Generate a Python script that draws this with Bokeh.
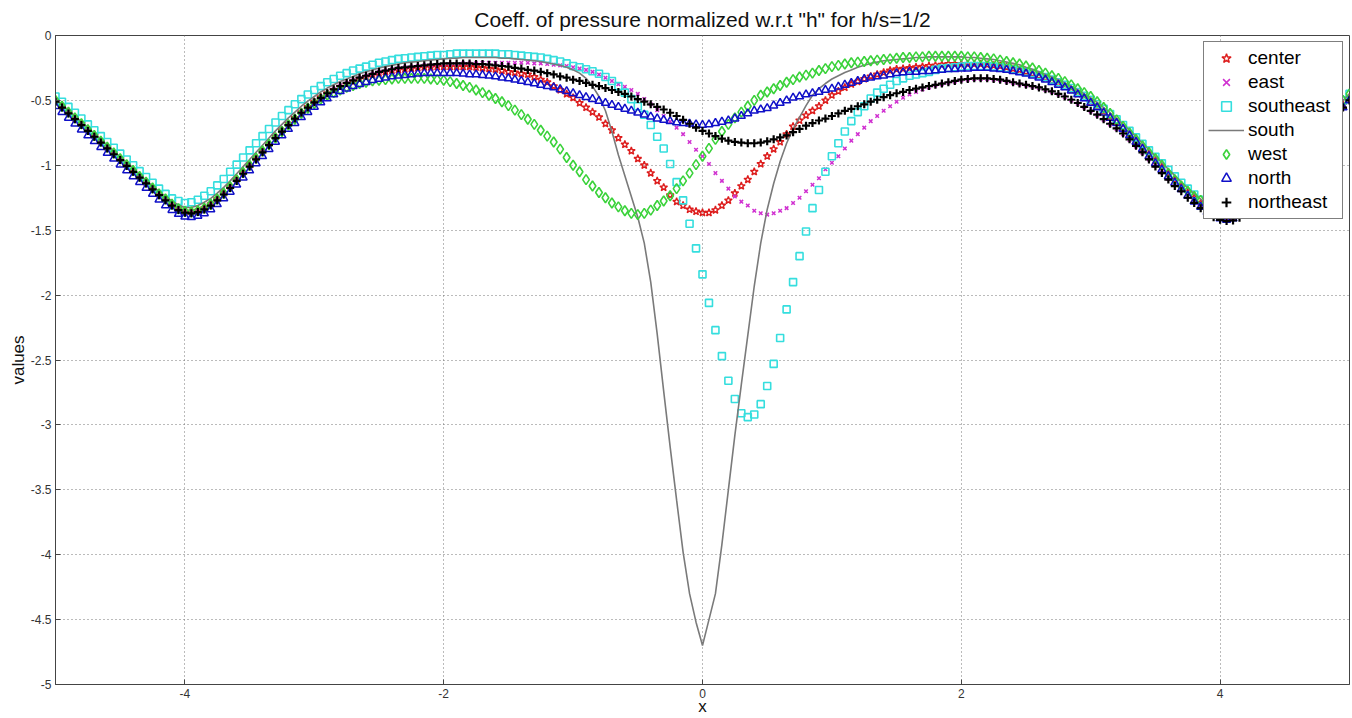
from bokeh.plotting import figure
from bokeh.models import Range1d, FixedTicker, CustomJSTickFormatter
from bokeh.embed import file_html
from bokeh.resources import INLINE

# sample positions (step 0.05 from -5 to 5)
X = [round(-5 + 0.05 * i, 2) for i in range(201)]

center = [
    -0.50, -0.545, -0.59, -0.635, -0.68, -0.725, -0.77, -0.815, -0.86, -0.905,
    -0.95, -0.995, -1.04, -1.085, -1.13, -1.175, -1.22, -1.26, -1.30, -1.335,
    -1.355, -1.36, -1.35, -1.33, -1.30, -1.26, -1.215, -1.165, -1.11, -1.055,
    -1.00, -0.945, -0.89, -0.835, -0.78, -0.73, -0.68, -0.635, -0.59, -0.55,
    -0.51, -0.475, -0.445, -0.42, -0.395, -0.375, -0.355, -0.335, -0.32, -0.305,
    -0.29, -0.28, -0.27, -0.265, -0.26, -0.255, -0.25, -0.245, -0.245, -0.24,
    -0.24, -0.24, -0.24, -0.24, -0.24, -0.245, -0.25, -0.255, -0.26, -0.27,
    -0.28, -0.285, -0.295, -0.30, -0.32, -0.34, -0.36, -0.39, -0.42, -0.45,
    -0.48, -0.52, -0.555, -0.59, -0.63, -0.68, -0.73, -0.79, -0.84, -0.89,
    -0.95, -1.00, -1.06, -1.12, -1.17, -1.23, -1.28, -1.31, -1.34, -1.355,
    -1.365, -1.365, -1.345, -1.31, -1.27, -1.215, -1.16, -1.11, -1.05, -0.99,
    -0.93, -0.875, -0.82, -0.76, -0.70, -0.655, -0.615, -0.58, -0.545, -0.50,
    -0.46, -0.43, -0.40, -0.375, -0.355, -0.335, -0.315, -0.30, -0.285, -0.27,
    -0.26, -0.255, -0.25, -0.245, -0.24, -0.235, -0.23, -0.225, -0.22, -0.22,
    -0.22, -0.22, -0.22, -0.22, -0.225, -0.23, -0.235, -0.245, -0.255, -0.265,
    -0.28, -0.295, -0.31, -0.33, -0.35, -0.37, -0.395, -0.42, -0.45, -0.48,
    -0.51, -0.545, -0.585, -0.625, -0.665, -0.71, -0.76, -0.81, -0.86, -0.91,
    -0.96, -1.01, -1.06, -1.11, -1.16, -1.21, -1.25, -1.29, -1.33, -1.36,
    -1.38, -1.39, -1.38, -1.36, -1.33, -1.29, -1.245, -1.195, -1.14, -1.085,
    -1.03, -0.975, -0.92, -0.865, -0.81, -0.755, -0.70, -0.645, -0.59, -0.535,
    -0.48,
]

east = [
    -0.50, -0.545, -0.59, -0.635, -0.68, -0.725, -0.77, -0.815, -0.86, -0.905,
    -0.95, -0.995, -1.04, -1.085, -1.13, -1.175, -1.22, -1.26, -1.30, -1.33,
    -1.35, -1.355, -1.345, -1.325, -1.295, -1.255, -1.21, -1.16, -1.105, -1.05,
    -0.995, -0.94, -0.885, -0.83, -0.775, -0.725, -0.675, -0.63, -0.585, -0.545,
    -0.505, -0.47, -0.44, -0.41, -0.385, -0.365, -0.345, -0.325, -0.31, -0.295,
    -0.28, -0.27, -0.26, -0.25, -0.245, -0.24, -0.235, -0.23, -0.23, -0.225,
    -0.225, -0.22, -0.22, -0.215, -0.215, -0.215, -0.21, -0.21, -0.21, -0.21,
    -0.21, -0.21, -0.21, -0.21, -0.215, -0.215, -0.22, -0.225, -0.23, -0.235,
    -0.245, -0.255, -0.265, -0.28, -0.30, -0.325, -0.35, -0.375, -0.395, -0.42,
    -0.45, -0.49, -0.53, -0.575, -0.62, -0.665, -0.71, -0.76, -0.82, -0.88,
    -0.93, -0.99, -1.06, -1.12, -1.18, -1.24, -1.28, -1.31, -1.35, -1.37,
    -1.38, -1.37, -1.35, -1.33, -1.29, -1.25, -1.20, -1.15, -1.10, -1.03,
    -0.98, -0.93, -0.87, -0.81, -0.76, -0.71, -0.66, -0.62, -0.58, -0.545,
    -0.51, -0.48, -0.455, -0.435, -0.415, -0.40, -0.385, -0.375, -0.365, -0.355,
    -0.345, -0.34, -0.335, -0.335, -0.335, -0.34, -0.345, -0.355, -0.365, -0.375,
    -0.385, -0.395, -0.405, -0.42, -0.435, -0.455, -0.475, -0.50, -0.525, -0.555,
    -0.585, -0.615, -0.65, -0.685, -0.72, -0.76, -0.805, -0.855, -0.905, -0.955,
    -1.005, -1.055, -1.105, -1.15, -1.195, -1.24, -1.28, -1.32, -1.36, -1.39,
    -1.41, -1.42, -1.41, -1.39, -1.36, -1.32, -1.275, -1.225, -1.17, -1.115,
    -1.06, -1.00, -0.945, -0.89, -0.835, -0.78, -0.725, -0.67, -0.615, -0.56,
    -0.505,
]

southeast = [
    -0.47, -0.51, -0.55, -0.595, -0.64, -0.685, -0.73, -0.775, -0.82, -0.865,
    -0.91, -0.955, -1.00, -1.045, -1.09, -1.135, -1.18, -1.22, -1.255, -1.275,
    -1.29, -1.285, -1.265, -1.235, -1.20, -1.155, -1.105, -1.05, -0.995, -0.94,
    -0.885, -0.83, -0.775, -0.72, -0.67, -0.62, -0.575, -0.53, -0.49, -0.455,
    -0.42, -0.39, -0.36, -0.335, -0.31, -0.29, -0.27, -0.255, -0.24, -0.225,
    -0.21, -0.20, -0.19, -0.18, -0.175, -0.17, -0.165, -0.16, -0.155, -0.15,
    -0.15, -0.145, -0.14, -0.14, -0.14, -0.14, -0.14, -0.14, -0.14, -0.145,
    -0.145, -0.15, -0.155, -0.16, -0.165, -0.17, -0.18, -0.19, -0.20, -0.215,
    -0.235, -0.245, -0.26, -0.275, -0.295, -0.32, -0.35, -0.39, -0.44, -0.49,
    -0.545, -0.61, -0.69, -0.78, -0.87, -0.99, -1.13, -1.27, -1.45, -1.64,
    -1.84, -2.06, -2.27, -2.47, -2.66, -2.80, -2.91, -2.94, -2.92, -2.84,
    -2.70, -2.53, -2.33, -2.11, -1.90, -1.70, -1.51, -1.33, -1.19, -1.05,
    -0.93, -0.83, -0.74, -0.66, -0.59, -0.545, -0.485, -0.44, -0.41, -0.38,
    -0.35, -0.33, -0.31, -0.30, -0.29, -0.28, -0.265, -0.255, -0.25, -0.245,
    -0.24, -0.235, -0.235, -0.235, -0.235, -0.24, -0.245, -0.25, -0.26, -0.27,
    -0.28, -0.29, -0.305, -0.32, -0.34, -0.36, -0.38, -0.405, -0.435, -0.465,
    -0.495, -0.53, -0.565, -0.605, -0.645, -0.69, -0.735, -0.785, -0.835, -0.885,
    -0.935, -0.985, -1.035, -1.085, -1.135, -1.18, -1.225, -1.265, -1.30, -1.33,
    -1.35, -1.355, -1.345, -1.325, -1.295, -1.255, -1.21, -1.16, -1.105, -1.05,
    -0.995, -0.94, -0.885, -0.83, -0.775, -0.72, -0.665, -0.61, -0.555, -0.50,
    -0.45,
]

south = [
    -0.49, -0.535, -0.575, -0.62, -0.665, -0.71, -0.755, -0.80, -0.845, -0.89,
    -0.935, -0.98, -1.025, -1.07, -1.115, -1.16, -1.20, -1.24, -1.275, -1.305,
    -1.325, -1.325, -1.31, -1.285, -1.255, -1.215, -1.17, -1.12, -1.065, -1.01,
    -0.955, -0.90, -0.845, -0.79, -0.735, -0.685, -0.635, -0.59, -0.545, -0.505,
    -0.47, -0.435, -0.405, -0.38, -0.355, -0.335, -0.315, -0.295, -0.28, -0.265,
    -0.25, -0.24, -0.23, -0.22, -0.21, -0.205, -0.20, -0.195, -0.19, -0.185,
    -0.18, -0.175, -0.175, -0.17, -0.17, -0.17, -0.17, -0.17, -0.17, -0.175,
    -0.175, -0.18, -0.185, -0.19, -0.195, -0.20, -0.21, -0.22, -0.23, -0.245,
    -0.265, -0.29, -0.33, -0.39, -0.47, -0.58, -0.74, -0.92, -1.08, -1.24,
    -1.40, -1.60, -1.90, -2.30, -2.74, -3.17, -3.58, -3.98, -4.30, -4.52,
    -4.70, -4.50, -4.30, -3.92, -3.50, -3.08, -2.69, -2.31, -1.93, -1.60,
    -1.34, -1.14, -0.97, -0.83, -0.72, -0.63, -0.54, -0.46, -0.41, -0.37,
    -0.335, -0.31, -0.285, -0.265, -0.245, -0.23, -0.215, -0.205, -0.195, -0.19,
    -0.185, -0.18, -0.175, -0.17, -0.17, -0.165, -0.165, -0.165, -0.165, -0.165,
    -0.165, -0.17, -0.17, -0.175, -0.18, -0.185, -0.195, -0.205, -0.215, -0.225,
    -0.245, -0.26, -0.28, -0.30, -0.32, -0.34, -0.365, -0.39, -0.42, -0.45,
    -0.48, -0.515, -0.555, -0.595, -0.64, -0.685, -0.73, -0.78, -0.83, -0.88,
    -0.93, -0.98, -1.03, -1.08, -1.13, -1.175, -1.22, -1.26, -1.295, -1.325,
    -1.345, -1.35, -1.34, -1.32, -1.29, -1.25, -1.205, -1.155, -1.10, -1.045,
    -0.99, -0.935, -0.88, -0.825, -0.77, -0.715, -0.66, -0.605, -0.55, -0.50,
    -0.45,
]

west = [
    -0.50, -0.545, -0.59, -0.635, -0.68, -0.725, -0.77, -0.815, -0.86, -0.905,
    -0.95, -0.995, -1.04, -1.085, -1.13, -1.175, -1.22, -1.26, -1.30, -1.335,
    -1.355, -1.36, -1.35, -1.33, -1.30, -1.26, -1.215, -1.165, -1.11, -1.055,
    -1.00, -0.945, -0.89, -0.84, -0.79, -0.74, -0.69, -0.645, -0.60, -0.56,
    -0.525, -0.49, -0.46, -0.44, -0.42, -0.40, -0.385, -0.37, -0.36, -0.35,
    -0.345, -0.34, -0.335, -0.33, -0.33, -0.33, -0.33, -0.33, -0.335, -0.34,
    -0.345, -0.355, -0.37, -0.385, -0.40, -0.42, -0.44, -0.46, -0.485, -0.51,
    -0.54, -0.575, -0.61, -0.645, -0.685, -0.73, -0.775, -0.82, -0.875, -0.94,
    -1.00, -1.05, -1.11, -1.16, -1.21, -1.25, -1.29, -1.32, -1.35, -1.37,
    -1.38, -1.37, -1.345, -1.31, -1.275, -1.235, -1.18, -1.12, -1.06, -0.995,
    -0.93, -0.87, -0.80, -0.74, -0.685, -0.635, -0.59, -0.545, -0.50, -0.46,
    -0.435, -0.41, -0.385, -0.36, -0.34, -0.32, -0.305, -0.29, -0.27, -0.255,
    -0.24, -0.23, -0.22, -0.21, -0.205, -0.20, -0.195, -0.19, -0.185, -0.18,
    -0.175, -0.17, -0.17, -0.165, -0.165, -0.16, -0.16, -0.16, -0.16, -0.16,
    -0.16, -0.165, -0.165, -0.17, -0.175, -0.18, -0.19, -0.20, -0.21, -0.22,
    -0.235, -0.25, -0.27, -0.29, -0.31, -0.33, -0.355, -0.38, -0.41, -0.44,
    -0.47, -0.51, -0.555, -0.60, -0.65, -0.70, -0.75, -0.80, -0.85, -0.90,
    -0.95, -1.00, -1.06, -1.11, -1.16, -1.20, -1.24, -1.27, -1.30, -1.32,
    -1.33, -1.335, -1.325, -1.305, -1.275, -1.235, -1.19, -1.14, -1.09, -1.035,
    -0.98, -0.925, -0.87, -0.815, -0.76, -0.705, -0.65, -0.60, -0.55, -0.50,
    -0.45,
]

north = [
    -0.545, -0.59, -0.635, -0.68, -0.725, -0.77, -0.815, -0.86, -0.905, -0.95,
    -0.995, -1.04, -1.085, -1.13, -1.175, -1.22, -1.265, -1.31, -1.345, -1.375,
    -1.395, -1.40, -1.39, -1.37, -1.34, -1.30, -1.255, -1.205, -1.15, -1.095,
    -1.04, -0.985, -0.93, -0.875, -0.82, -0.77, -0.72, -0.675, -0.63, -0.59,
    -0.55, -0.515, -0.485, -0.455, -0.43, -0.41, -0.39, -0.375, -0.36, -0.345,
    -0.335, -0.325, -0.315, -0.31, -0.305, -0.30, -0.295, -0.29, -0.29, -0.29,
    -0.29, -0.29, -0.29, -0.295, -0.30, -0.30, -0.305, -0.31, -0.315, -0.325,
    -0.33, -0.34, -0.35, -0.36, -0.37, -0.38, -0.39, -0.40, -0.415, -0.43,
    -0.445, -0.46, -0.475, -0.49, -0.505, -0.52, -0.535, -0.55, -0.565, -0.58,
    -0.595, -0.61, -0.625, -0.64, -0.65, -0.66, -0.67, -0.675, -0.68, -0.685,
    -0.69, -0.685, -0.675, -0.665, -0.655, -0.64, -0.62, -0.60, -0.58, -0.57,
    -0.56, -0.54, -0.52, -0.50, -0.48, -0.47, -0.455, -0.445, -0.435, -0.42,
    -0.41, -0.395, -0.38, -0.365, -0.35, -0.335, -0.325, -0.315, -0.31, -0.30,
    -0.29, -0.285, -0.28, -0.28, -0.275, -0.275, -0.27, -0.265, -0.26, -0.26,
    -0.255, -0.255, -0.25, -0.25, -0.25, -0.255, -0.26, -0.265, -0.275, -0.285,
    -0.295, -0.31, -0.325, -0.34, -0.36, -0.38, -0.40, -0.425, -0.455, -0.485,
    -0.52, -0.555, -0.595, -0.635, -0.675, -0.72, -0.77, -0.82, -0.875, -0.93,
    -0.985, -1.035, -1.085, -1.135, -1.185, -1.235, -1.28, -1.32, -1.36, -1.39,
    -1.41, -1.42, -1.41, -1.39, -1.36, -1.32, -1.275, -1.225, -1.17, -1.115,
    -1.06, -1.00, -0.945, -0.89, -0.83, -0.775, -0.72, -0.665, -0.61, -0.555,
    -0.50,
]

northeast = [
    -0.51, -0.555, -0.60, -0.645, -0.69, -0.735, -0.78, -0.825, -0.87, -0.915,
    -0.96, -1.005, -1.05, -1.095, -1.14, -1.185, -1.23, -1.27, -1.31, -1.345,
    -1.365, -1.37, -1.36, -1.34, -1.31, -1.27, -1.225, -1.175, -1.12, -1.065,
    -1.01, -0.955, -0.90, -0.845, -0.79, -0.74, -0.69, -0.64, -0.595, -0.555,
    -0.515, -0.48, -0.445, -0.415, -0.39, -0.365, -0.345, -0.325, -0.31, -0.295,
    -0.28, -0.27, -0.26, -0.25, -0.245, -0.24, -0.235, -0.23, -0.225, -0.22,
    -0.215, -0.215, -0.215, -0.215, -0.215, -0.22, -0.22, -0.225, -0.23, -0.235,
    -0.24, -0.25, -0.255, -0.265, -0.27, -0.28, -0.29, -0.30, -0.315, -0.325,
    -0.34, -0.35, -0.365, -0.38, -0.39, -0.405, -0.42, -0.435, -0.45, -0.47,
    -0.49, -0.51, -0.53, -0.55, -0.57, -0.595, -0.62, -0.65, -0.68, -0.71,
    -0.735, -0.755, -0.775, -0.795, -0.81, -0.82, -0.825, -0.83, -0.83, -0.825,
    -0.815, -0.80, -0.785, -0.77, -0.745, -0.72, -0.695, -0.675, -0.655, -0.64,
    -0.62, -0.60, -0.58, -0.565, -0.545, -0.53, -0.51, -0.495, -0.475, -0.46,
    -0.445, -0.435, -0.42, -0.41, -0.40, -0.39, -0.38, -0.37, -0.36, -0.35,
    -0.34, -0.335, -0.33, -0.33, -0.33, -0.335, -0.34, -0.35, -0.36, -0.37,
    -0.38, -0.39, -0.40, -0.415, -0.43, -0.45, -0.47, -0.495, -0.52, -0.55,
    -0.58, -0.61, -0.645, -0.68, -0.715, -0.755, -0.80, -0.85, -0.90, -0.955,
    -1.01, -1.06, -1.11, -1.16, -1.20, -1.25, -1.29, -1.33, -1.37, -1.40,
    -1.42, -1.43, -1.425, -1.405, -1.375, -1.335, -1.29, -1.24, -1.185, -1.13,
    -1.065, -1.005, -0.95, -0.89, -0.835, -0.78, -0.72, -0.665, -0.61, -0.555,
    -0.50,
]

X_TICKS = [-4, -2, 0, 2, 4]
Y_TICKS = [0, -0.5, -1, -1.5, -2, -2.5, -3, -3.5, -4, -4.5, -5]

FONT = "Liberation Sans"

p = figure(
    width=1352, height=718,
    x_range=Range1d(-5, 5), y_range=Range1d(-5, 0),
    output_backend="svg", toolbar_location=None,
    title='Coeff. of pressure normalized w.r.t "h" for h/s=1/2',
    min_border_left=55, min_border_right=3, min_border_top=34, min_border_bottom=33,
    background_fill_color="white", border_fill_color="white",
)

p.title.align = "center"
p.title.text_font = FONT
p.title.text_font_size = "21px"
p.title.text_font_style = "normal"
p.title.text_color = "#111111"
p.title.standoff = 10

p.outline_line_color = "#444444"
p.outline_line_width = 1
p.outline_line_alpha = 1

fmt = CustomJSTickFormatter(code="return String(Math.round(tick*10)/10);")
for ax, ticks in ((p.xaxis[0], X_TICKS), (p.yaxis[0], Y_TICKS)):
    ax.ticker = FixedTicker(ticks=ticks)
    ax.formatter = fmt
    ax.major_tick_in = 5
    ax.major_tick_out = 0
    ax.minor_tick_line_color = None
    ax.axis_line_color = "#444444"
    ax.major_tick_line_color = "#444444"
    ax.major_label_text_font = FONT
    ax.major_label_text_font_size = "12px"
    ax.major_label_text_color = "#333333"
    ax.major_label_standoff = 4
    ax.axis_label_text_font = FONT
    ax.axis_label_text_font_size = "17px"
    ax.axis_label_text_font_style = "normal"
    ax.axis_label_text_color = "#111111"

p.xaxis.axis_label_standoff = -4
p.yaxis.axis_label_standoff = 0
p.xaxis.axis_label = "x"
p.yaxis.axis_label = "values"

for g in (p.xgrid[0], p.ygrid[0]):
    g.grid_line_color = "#777777"
    g.grid_line_dash = "1 3"
    g.grid_line_width = 1
p.xgrid.ticker = FixedTicker(ticks=X_TICKS)
p.ygrid.ticker = FixedTicker(ticks=Y_TICKS)

p.scatter(X, center, marker="star", size=8, line_color="#dd1c1c", fill_color=None,
          line_width=1.4, legend_label="center")
p.scatter(X, east, marker="x", size=5, line_color="#d030d0", line_width=1.5,
          legend_label="east")
p.scatter(X, southeast, marker="square", size=7, line_color="#35dede", fill_color=None,
          line_width=1.6, legend_label="southeast")
p.line(X, south, line_color="#7a7a7a", line_width=1.6, legend_label="south")
p.scatter(X, west, marker="diamond", size=10, line_color="#3ad23a", fill_color=None,
          line_width=1.6, legend_label="west")
p.scatter(X, north, marker="triangle", size=8, line_color="#1010c8", fill_color=None,
          line_width=1.5, legend_label="north")
p.scatter(X, northeast, marker="cross", size=8, line_color="#000000",
          line_width=2.2, legend_label="northeast")

lg = p.legend[0]
lg.location = "top_right"
lg.margin = 6
lg.padding = 4
lg.spacing = 0
lg.border_line_color = "#000000"
lg.border_line_width = 1
lg.background_fill_color = "white"
lg.background_fill_alpha = 1
lg.label_text_font = FONT
lg.label_text_font_size = "19px"
lg.label_text_color = "#000000"
lg.label_height = 24
lg.glyph_height = 24
lg.glyph_width = 36
lg.label_width = 90
lg.label_standoff = 4

open("out.html", "w").write(file_html(p, INLINE))
